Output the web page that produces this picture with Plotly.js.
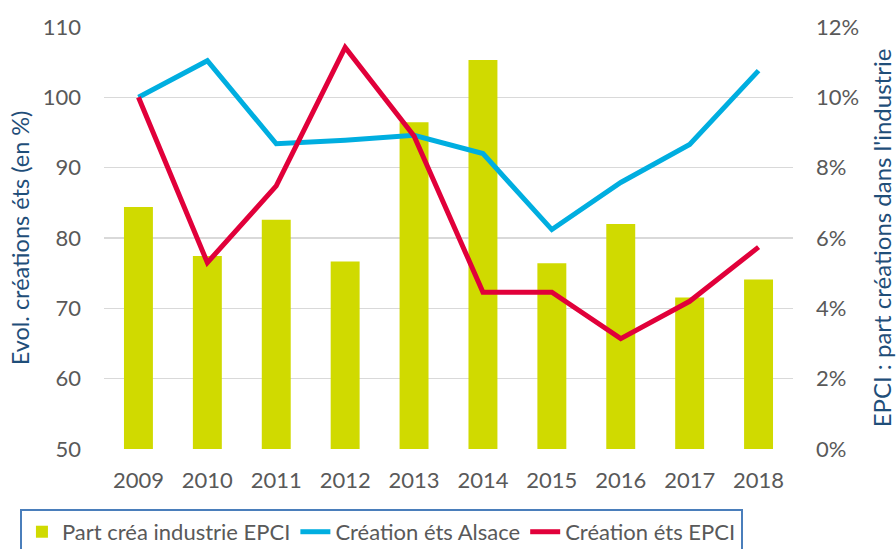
<!DOCTYPE html>
<html>
<head>
<meta charset="utf-8">
<script src="https://cdn.plot.ly/plotly-3.0.1.min.js"></script>
<style>html,body{margin:0;padding:0;background:#fff;}#chart{width:896px;height:549px;}</style>
</head>
<body>
<div id="chart"></div>
<script>
const years = ["2009","2010","2011","2012","2013","2014","2015","2016","2017","2018"];
const partIndustrieEPCI = [0.0688, 0.0549, 0.0652, 0.0533, 0.0929, 0.1106, 0.0528, 0.0640, 0.0431, 0.0482];
const creationAlsace = [100, 105.2, 93.4, 93.9, 94.6, 92.0, 81.2, 87.9, 93.3, 103.8];
const creationEPCI = [100, 76.5, 87.4, 107.1, 94.5, 72.3, 72.3, 65.7, 71.0, 78.7];
const leftTicks = [50, 60, 70, 80, 90, 100, 110];
const rightTicks = [0, 0.02, 0.04, 0.06, 0.08, 0.10, 0.12];
const rightTickText = ["0%", "2%", "4%", "6%", "8%", "10%", "12%"];

const FONT = "Lato, 'Open Sans', sans-serif";
const GREY = "#595959";
const TITLEBLUE = "#1F4E79";

const traces = [
  {
    type: "bar", name: "Part créa industrie EPCI", x: years, y: partIndustrieEPCI,
    xaxis: "x", yaxis: "y", marker: {color: "#D0DA00"}, width: 0.42
  },
  {
    type: "scatter", mode: "lines", name: "Création éts Alsace", x: years, y: creationAlsace,
    xaxis: "x", yaxis: "y2", line: {color: "#00AEE0", width: 5}
  },
  {
    type: "scatter", mode: "lines", name: "Création éts EPCI", x: years, y: creationEPCI,
    xaxis: "x", yaxis: "y2", line: {color: "#E1003A", width: 5}
  }
];

const layout = {
  width: 896, height: 549,
  margin: {l: 104, r: 103, t: 27, b: 100, pad: 0, autoexpand: false},
  paper_bgcolor: "#fff", plot_bgcolor: "#fff",
  font: {family: FONT, size: 22, color: GREY},
  showlegend: true,
  xaxis: {
    type: "category", showgrid: false, zeroline: false, showline: false,
    ticks: "", ticklabelstandoff: 16, tickfont: {family: FONT, size: 22, color: GREY}
  },
  yaxis: {
    side: "right", range: [0, 0.12], tickvals: rightTicks, ticktext: rightTickText,
    showgrid: true, gridcolor: "#D9D9D9", gridwidth: 1.5, zeroline: false, showline: false,
    ticks: "", ticklabelstandoff: 22, tickfont: {family: FONT, size: 22, color: GREY},
    title: {text: "EPCI : part créations dans l'industrie", font: {family: FONT, size: 24, color: TITLEBLUE}, standoff: 18}
  },
  yaxis2: {
    overlaying: "y", side: "left", range: [50, 110], tickvals: leftTicks,
    showgrid: false, zeroline: false, showline: false,
    ticks: "", ticklabelstandoff: 22, tickfont: {family: FONT, size: 22, color: GREY},
    title: {text: "Evol. créations éts (en %)", font: {family: FONT, size: 23.5, color: TITLEBLUE}, standoff: 6}
  },
  legend: {
    orientation: "h", x: -0.122, xanchor: "left", y: -0.142, yanchor: "top",
    bordercolor: "#4A7EBB", borderwidth: 2, bgcolor: "#fff",
    font: {family: FONT, size: 22, color: GREY},
    traceorder: "normal", itemwidth: 30
  }
};

Plotly.newPlot("chart", traces, layout, {displayModeBar: false, staticPlot: true});
</script>
</body>
</html>
